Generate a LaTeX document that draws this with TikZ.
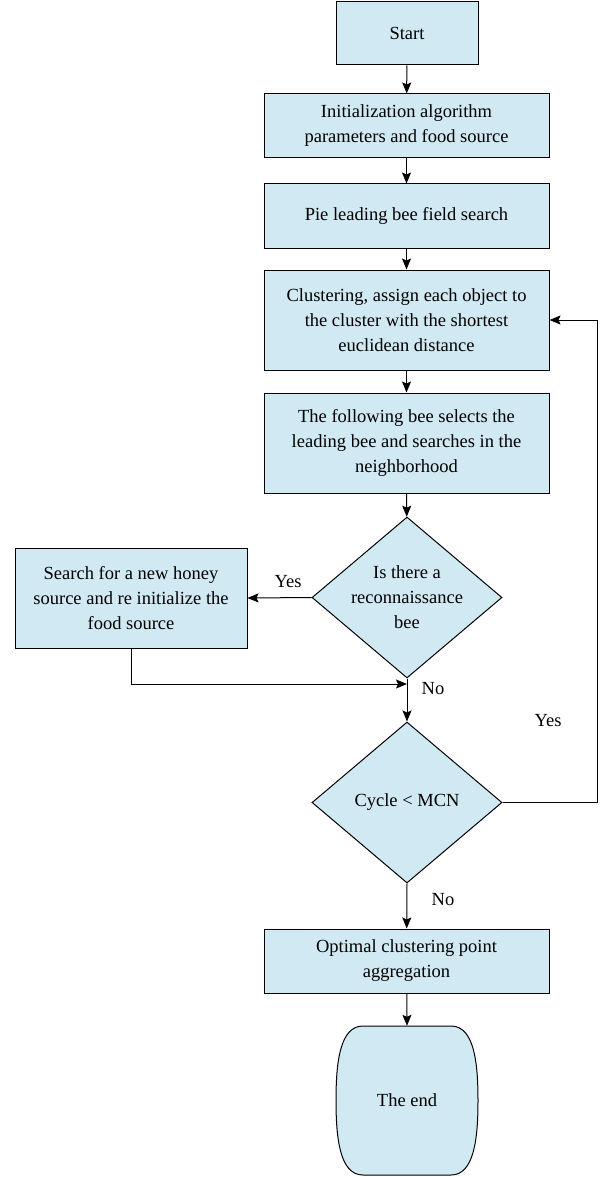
\documentclass[tikz,border=0pt]{standalone}
\usepackage{fontspec}
\setmainfont{Liberation Serif}
\usetikzlibrary{shapes.geometric,arrows.meta}
\definecolor{boxfill}{RGB}{209,233,242}
\begin{document}
\begin{tikzpicture}[x=1pt,y=-1pt,
  every node/.style={font=\fontsize{18.5}{25}\selectfont},
  proc/.style={draw, line width=1pt, fill=boxfill, align=center, inner sep=2pt},
  dec/.style={draw, line width=1pt, fill=boxfill, diamond, aspect=1.18, align=center, inner sep=0pt},
  conn/.style={line width=1pt, -{Stealth[length=11pt,width=9pt,inset=2pt]}},
  plain/.style={line width=1pt},
  lbl/.style={inner sep=0pt}
]
\useasboundingbox (0,0) rectangle (604,1177);
\node[proc, minimum width=142, minimum height=63] (start) at (407,33.5) {Start};
\node[proc, minimum width=285, minimum height=64] (init) at (406.5,126) {Initialization algorithm\\parameters and food source};
\node[proc, minimum width=285, minimum height=64] (pie) at (406.5,216) {Pie leading bee field search};
\node[proc, minimum width=285, minimum height=100] (clus) at (406.5,320) {Clustering, assign each object to\\the cluster with the shortest\\euclidean distance};
\node[proc, minimum width=285, minimum height=100] (follow) at (406.5,443) {The following bee selects the\\leading bee and searches in the\\neighborhood};
\node[dec, minimum width=190, minimum height=161] (recon) at (407,597.5) {Is there a\\reconnaissance\\bee};
\node[proc, minimum width=232, minimum height=100] (search) at (131,598) {Search for a new honey\\source and re initialize the\\food source};
\node[dec, minimum width=190, minimum height=161] (cycle) at (407,802.5) {Cycle < MCN};
\node[proc, minimum width=285, minimum height=64] (opt) at (406.5,961) {Optimal clustering point\\aggregation};
\node[minimum width=142, minimum height=149, inner sep=0pt] (end) at (407,1100.5) {};
\draw[plain, fill=boxfill]
  (363,1026) -- (451,1026)
  .. controls (474,1026) and (478,1062) .. (478,1100.5)
  .. controls (478,1139) and (474,1175) .. (451,1175)
  -- (363,1175)
  .. controls (340,1175) and (336,1139) .. (336,1100.5)
  .. controls (336,1062) and (340,1026) .. (363,1026) -- cycle;
\node at (end) {The end};
\coordinate (merge) at (407,684);
\coordinate (rt) at (597,802.5);
\coordinate (rtop) at (597,320);
\draw[conn] (start) -- (init);
\draw[conn] (init) -- (pie);
\draw[conn] (pie) -- (clus);
\draw[conn] (clus) -- (follow);
\draw[conn] (follow) -- (recon);
\draw[conn] (recon.west) -- (search.east);
\draw[conn] (search.south) |- (merge);
\draw[plain] (recon.south) -- (merge);
\draw[conn] (merge) -- (cycle.north);
\draw[plain] (cycle.east) -- (rt) -- (rtop);
\draw[conn] (rtop) -- (clus.east);
\draw[conn] (cycle.south) -- (opt);
\draw[conn] (opt) -- (end.north);
\node[lbl] (yes1) at (288,582) {Yes};
\node[lbl] (no1) at (433,689) {No};
\node[lbl] (yes2) at (548,721) {Yes};
\node[lbl] (no2) at (443,900) {No};
\end{tikzpicture}
\end{document}
